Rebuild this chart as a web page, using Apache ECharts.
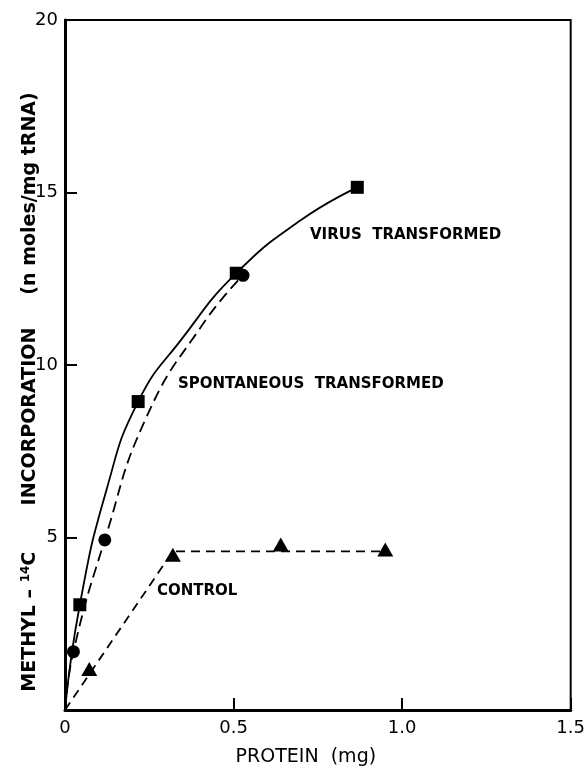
<!DOCTYPE html>
<html><head><meta charset="utf-8">
<script src="https://cdn.jsdelivr.net/npm/echarts@6/dist/echarts.min.js"></script>
<style>html,body{margin:0;padding:0;background:#fff}#c{width:588px;height:772px}</style>
</head><body><div id="c"></div>
<script>
const virusX = [0.044, 0.217, 0.508, 0.867];
const virusY = [3.05, 8.94, 12.66, 15.15];
const spontX = [0.025, 0.118, 0.528];
const spontY = [1.69, 4.93, 12.6];
const controlX = [0.072, 0.32, 0.64, 0.95];
const controlY = [1.19, 4.5, 4.8, 4.65];
// Drawn fitted curves
const virusCurveX = [0, 0.044, 0.123, 0.217, 0.35, 0.508, 0.70, 0.867];
const virusCurveY = [0, 3.05, 6.38, 8.94, 10.8, 12.66, 14.2, 15.15];
const spontCurveX = [0, 0.025, 0.118, 0.242, 0.41, 0.528];
const spontCurveY = [0, 1.69, 4.93, 8.5, 11.2, 12.6];
const controlLineX = [0, 0.32, 0.95];
const controlLineY = [0, 4.6, 4.6];
const xTicks = [0, 0.5, 1.0, 1.5];
const yTicks = [5, 10, 15, 20];

const pairs = (xs, ys) => xs.map((x, i) => [x, ys[i]]);
const font = '"DejaVu Sans", sans-serif';

const chart = echarts.init(document.getElementById('c'), null, {renderer: 'canvas'});
chart.setOption({
  animation: false,
  backgroundColor: '#fff',
  grid: {left: 65, right: 15, top: 20, bottom: 62, show: true, borderColor: '#000', borderWidth: 2},
  xAxis: {
    type: 'value', min: 0, max: 1.5, interval: 0.5,
    name: 'PROTEIN  (mg)', nameLocation: 'middle', nameGap: 38,
    nameTextStyle: {fontFamily: font, fontSize: 19, color: '#000', padding: [0, 24, 0, 0]},
    axisLine: {show: true, lineStyle: {color: '#000', width: 3}},
    axisTick: {show: true, inside: true, length: 12, lineStyle: {color: '#000', width: 2}},
    axisLabel: {fontFamily: font, fontSize: 18, color: '#000', margin: 9,
      formatter: v => xTicks.indexOf(v) < 0 ? '' : (v === 0 ? '0' : v.toFixed(1))},
    splitLine: {show: false}
  },
  yAxis: {
    type: 'value', min: 0, max: 20, interval: 5,
    axisLine: {show: true, lineStyle: {color: '#000', width: 3}},
    axisTick: {show: true, inside: true, length: 12, lineStyle: {color: '#000', width: 2}},
    axisLabel: {fontFamily: font, fontSize: 18, color: '#000', margin: 7,
      formatter: v => yTicks.indexOf(v) < 0 ? '' : String(v)},
    splitLine: {show: false}
  },
  series: [
    {type: 'line', data: pairs(virusCurveX, virusCurveY), smooth: 0.5, symbol: 'none',
      lineStyle: {color: '#000', width: 1.8}},
    {type: 'line', data: pairs(spontCurveX, spontCurveY), smooth: 0.5, symbol: 'none',
      lineStyle: {color: '#000', width: 1.8, type: [11, 6]}},
    {type: 'line', data: pairs(controlLineX, controlLineY), smooth: false, symbol: 'none',
      lineStyle: {color: '#000', width: 1.8, type: [9, 6]}},
    {type: 'scatter', data: pairs(virusX, virusY), symbol: 'rect', symbolSize: 13,
      itemStyle: {color: '#000', opacity: 1}},
    {type: 'scatter', data: pairs(spontX, spontY), symbol: 'circle', symbolSize: 13,
      itemStyle: {color: '#000', opacity: 1}},
    {type: 'scatter', data: pairs(controlX, controlY), symbol: 'triangle', symbolSize: [16, 14],
      itemStyle: {color: '#000', opacity: 1}}
  ],
  graphic: [
    {type: 'text', x: 30, y: 392, rotation: Math.PI / 2,
      style: {
        text: '{b|METHYL – }{s|14}{b|C       INCORPORATION     (n moles/mg tRNA)}',
        align: 'center', verticalAlign: 'middle', fill: '#000',
        rich: {
          b: {fontFamily: font, fontSize: 19, fontWeight: 'bold', fill: '#000'},
          s: {fontFamily: font, fontSize: 12, fontWeight: 'bold', fill: '#000', padding: [0, 0, 9, 0]}
        }
      }},
    {type: 'text', left: 310, top: 228, style: {text: 'VIRUS  TRANSFORMED', font: 'bold 15px ' + font, fill: '#000'}},
    {type: 'text', left: 178, top: 377, style: {text: 'SPONTANEOUS  TRANSFORMED', font: 'bold 15px ' + font, fill: '#000'}},
    {type: 'text', left: 157, top: 584, style: {text: 'CONTROL', font: 'bold 15px ' + font, fill: '#000'}}
  ]
});
</script>
</body></html>
